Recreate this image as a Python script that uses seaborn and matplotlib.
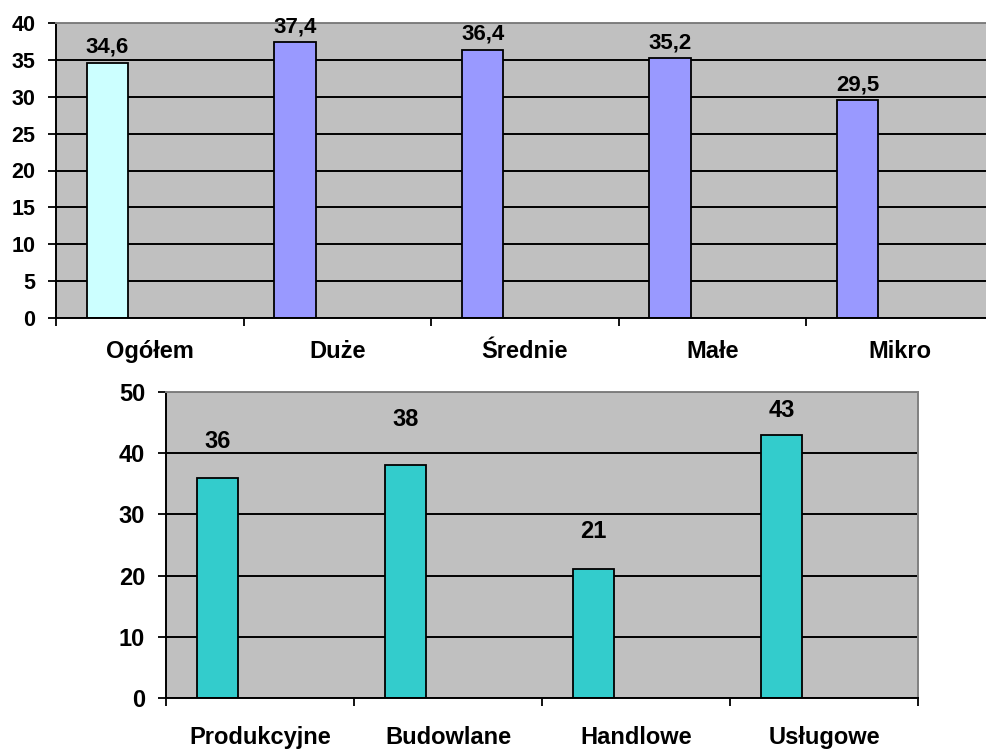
import matplotlib
matplotlib.use('Agg')
import matplotlib.pyplot as plt
import seaborn as sns
import pandas as pd
import numpy as np

# top chart: by company size
size_labels = ['Ogółem', 'Duże', 'Średnie', 'Małe', 'Mikro']
size_values = [34.6, 37.4, 36.4, 35.2, 29.5]
size_ticks = [0, 5, 10, 15, 20, 25, 30, 35, 40]

# bottom chart: by sector
sector_labels = ['Produkcyjne', 'Budowlane', 'Handlowe', 'Usługowe']
sector_values = [36, 38, 21, 43]
sector_ticks = [0, 10, 20, 30, 40, 50]

size_colors = {'Ogółem': '#CCFFFF', 'Duże': '#9999FF', 'Średnie': '#9999FF',
               'Małe': '#9999FF', 'Mikro': '#9999FF'}
sector_color = '#33CCCC'
# gap (pixels) between value label and bar top, as in the source
size_gap = [10, 10, 10, 10, 10]
sector_gap = [30, 39, 31, 18]

sns.set_theme(style='ticks')
plt.rcParams['font.family'] = ['Liberation Sans', 'DejaVu Sans']
plt.rcParams['font.weight'] = 'bold'
plt.rcParams['text.color'] = 'black'
plt.rcParams['xtick.color'] = 'black'
plt.rcParams['ytick.color'] = 'black'
plt.rcParams['xtick.labelcolor'] = 'black'
plt.rcParams['ytick.labelcolor'] = 'black'

W, H = 986, 751
fig = plt.figure(figsize=(W / 100, H / 100), dpi=100)
fig.patch.set_facecolor('white')


def draw(rect, labels, values, ticks, colors, gaps, ymax, tick_fs, lab_fs, val_fs, xpad):
    ax = fig.add_axes(rect)
    n = len(labels)
    df = pd.DataFrame({'label': labels, 'value': values,
                       'pos': np.arange(n) + 0.275})
    sns.barplot(data=df, x='pos', y='value', hue='label', palette=colors,
                native_scale=True, width=0.22, edgecolor='black', saturation=1,
                linewidth=1.3, legend=False, ax=ax)
    ax.set_facecolor('#C0C0C0')
    ax.set_xlim(0, n)
    ax.set_ylim(0, ymax)
    ax.set_yticks(ticks)
    ax.set_yticklabels([str(t) for t in ticks], fontsize=tick_fs, fontweight='bold')
    ax.yaxis.grid(True, color='black', linewidth=1.4)
    ax.set_axisbelow(True)
    ax.set_xticks(range(n + 1))
    ax.set_xticklabels([])
    ax.set_xticks(np.arange(n) + 0.5, minor=True)
    ax.set_xticklabels(labels, minor=True, fontsize=lab_fs, fontweight='bold')
    ax.tick_params(axis='x', which='minor', length=0, pad=xpad)
    ax.tick_params(axis='x', which='major', length=6, width=1.3, color='black')
    ax.tick_params(axis='y', length=6, width=1.3, color='black', pad=9)
    ax.set_xlabel('')
    ax.set_ylabel('')
    for side in ['left', 'bottom']:
        ax.spines[side].set_color('black')
        ax.spines[side].set_linewidth(1.4)
    for side in ['top', 'right']:
        ax.spines[side].set_visible(True)
        ax.spines[side].set_color('#808080')
        ax.spines[side].set_linewidth(1.4)
    for p, v, g in zip(df['pos'], df['value'], gaps):
        txt = f'{v:g}'.replace('.', ',')
        ax.annotate(txt, (p, v), xytext=(0, g), textcoords='offset pixels',
                    ha='center', va='baseline', fontsize=val_fs,
                    fontweight='bold', color='black')
    return ax


# top axes: left 56px, bottom 318px, top 23px, 187.5px per category (runs past the right edge)
draw([56 / W, (H - 318) / H, 5 * 187.5 / W, (318 - 23) / H],
     size_labels, size_values, size_ticks, size_colors, size_gap, 40,
     15.5, 17, 16, 16)

# bottom axes: left 166px, right 918px, bottom 698px, top 392px
draw([166 / W, (H - 698) / H, (918 - 166) / W, (698 - 392) / H],
     sector_labels, sector_values, sector_ticks,
     {l: sector_color for l in sector_labels}, sector_gap, 50,
     17, 17, 17, 20)

fig.savefig('out.png', dpi=100)
